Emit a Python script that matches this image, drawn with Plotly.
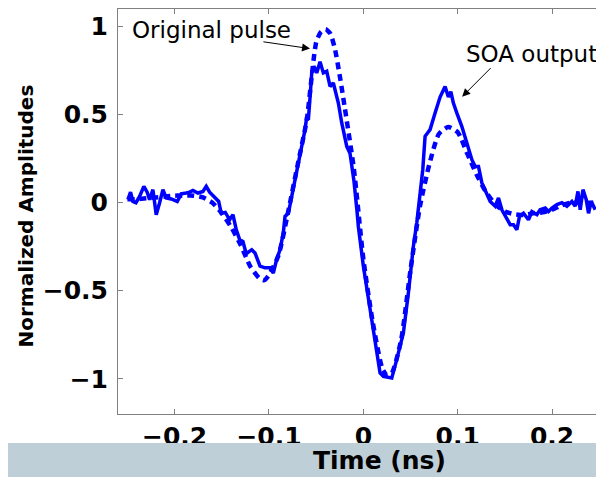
import plotly.graph_objects as go

# SOA output (solid, measured)
soa_t = [-0.2495, -0.2467, -0.2442, -0.2410, -0.2371, -0.2326, -0.2291, -0.2265, -0.2230, -0.2195,
         -0.2159, -0.2124, -0.2089, -0.2036, -0.1972, -0.1930, -0.1877, -0.1841, -0.1806, -0.1753,
         -0.1700, -0.1665, -0.1629, -0.1576, -0.1533, -0.1506, -0.1463, -0.1417, -0.1382, -0.1347,
         -0.1311, -0.1276, -0.1241, -0.1183, -0.1148, -0.1095, -0.1042, -0.0989, -0.0954, -0.0918,
         -0.0883, -0.0848, -0.0830, -0.0795, -0.0759, -0.0724, -0.0689, -0.0653, -0.0618, -0.0600,
         -0.0583, -0.0565, -0.0547, -0.0523, -0.0494, -0.0459, -0.0424, -0.0388, -0.0353, -0.0318,
         -0.0265, -0.0229, -0.0176, -0.0141, -0.0099, -0.0067, -0.0053, 0.0000, 0.0053, 0.0089,
         0.0124, 0.0177, 0.0212, 0.0301, 0.0354, 0.0424, 0.0477, 0.0530, 0.0566, 0.0601,
         0.0630, 0.0654, 0.0707, 0.0760, 0.0813, 0.0866, 0.0901, 0.0927, 0.0954, 0.0990,
         0.1043, 0.1096, 0.1150, 0.1185, 0.1220, 0.1256, 0.1309, 0.1344, 0.1397, 0.1432,
         0.1468, 0.1503, 0.1556, 0.1591, 0.1627, 0.1654, 0.1697, 0.1750, 0.1786, 0.1839,
         0.1873, 0.1927, 0.1962, 0.1998, 0.2051, 0.2104, 0.2157, 0.2210, 0.2245, 0.2274,
         0.2298, 0.2327, 0.2362, 0.2386, 0.2415, 0.2457]
soa_v = [0.017, 0.060, 0.007, 0.000, 0.036, 0.093, 0.060, 0.017, 0.074, -0.068,
         0.000, 0.074, 0.027, 0.021, 0.007, 0.050, 0.055, 0.060, 0.070, 0.055,
         0.064, 0.093, 0.060, 0.027, 0.007, -0.060, -0.055, -0.097, -0.068, -0.153,
         -0.210, -0.220, -0.290, -0.267, -0.286, -0.360, -0.370, -0.370, -0.400, -0.320,
         -0.267, -0.170, -0.078, -0.060, 0.036, 0.130, 0.244, 0.340, 0.415, 0.490,
         0.470, 0.600, 0.737, 0.775, 0.737, 0.800, 0.737, 0.746, 0.660, 0.680,
         0.566, 0.453, 0.320, 0.280, 0.120, -0.050, -0.135, -0.360, -0.550, -0.665,
         -0.780, -0.967, -0.987, -0.996, -0.890, -0.740, -0.513, -0.248, -0.115, 0.036,
         0.190, 0.377, 0.415, 0.510, 0.600, 0.660, 0.600, 0.630, 0.566, 0.510,
         0.434, 0.340, 0.244, 0.206, 0.206, 0.112, 0.055, 0.007, -0.020, 0.027,
         -0.040, -0.078, -0.125, -0.125, -0.153, -0.078, -0.060, -0.097, -0.050, -0.068,
         -0.040, -0.030, -0.050, -0.030, -0.011, 0.000, -0.020, 0.007, -0.020, 0.064,
         -0.040, 0.074, 0.017, -0.060, 0.007, -0.040]

# Original pulse (dashed, measured)
orig_t = [-0.25, -0.24, -0.23, -0.22, -0.21, -0.20, -0.19, -0.18, -0.17, -0.16,
          -0.15, -0.14, -0.13, -0.12, -0.11, -0.105, -0.10, -0.09, -0.08, -0.07,
          -0.06, -0.05, -0.045, -0.04, -0.035, -0.03, -0.025, -0.02, -0.01, 0.00,
          0.01, 0.02, 0.025, 0.03, 0.04, 0.05, 0.06, 0.07, 0.08, 0.09,
          0.10, 0.11, 0.12, 0.13, 0.14, 0.15, 0.16, 0.17, 0.18, 0.19,
          0.20, 0.21, 0.22, 0.23, 0.24, 0.25]
orig_v = [0.02, 0.02, 0.025, 0.03, 0.035, 0.04, 0.04, 0.04, 0.03, 0.00,
          -0.06, -0.14, -0.24, -0.36, -0.43, -0.44, -0.41, -0.30, -0.06, 0.205,
          0.47, 0.91, 0.97, 0.985, 0.96, 0.87, 0.72, 0.55, 0.19, -0.32,
          -0.68, -0.94, -0.98, -0.97, -0.78, -0.38, -0.02, 0.22, 0.39, 0.43,
          0.40, 0.28, 0.16, 0.06, -0.01, -0.05, -0.065, -0.07, -0.06, -0.055,
          -0.04, -0.015, 0.00, 0.00, 0.00, 0.00]

x_ticks = [-0.2, -0.1, 0, 0.1, 0.2]
y_ticks = [-1, -0.5, 0, 0.5, 1]

BLUE = "rgb(0,0,255)"
TICKFONT = dict(family="DejaVu Sans", size=25, color="black", weight="bold")

fig = go.Figure()
fig.add_trace(go.Scatter(x=orig_t, y=orig_v, mode="lines", name="Original pulse",
                         line=dict(color=BLUE, width=4.5, dash="7px,5px", shape="spline", smoothing=0.6)))
fig.add_trace(go.Scatter(x=soa_t, y=soa_v, mode="lines", name="SOA output",
                         line=dict(color=BLUE, width=3.5)))

axis_common = dict(showgrid=False, zeroline=False, showline=True, linecolor="#808080", linewidth=1,
                   mirror="ticks", ticks="inside", ticklen=5, tickcolor="#808080",
                   tickfont=TICKFONT, automargin=False)
fig.update_xaxes(range=[-0.26, 0.255], tickvals=x_ticks, **axis_common)
fig.update_yaxes(range=[-1.2, 1.1], tickvals=y_ticks, ticklabelstandoff=4, **axis_common)

# plot area: 486 x 405 px
fig.add_shape(type="rect", xref="paper", yref="paper", x0=-0.3, x1=1.1, y0=-0.0716, y1=-0.2,
              fillcolor="rgb(191,207,215)", line=dict(width=0), layer="above")

fig.add_annotation(xref="paper", yref="paper", x=0.539, y=-0.116, text="Time (ns)", showarrow=False,
                   font=dict(family="DejaVu Sans", size=25, color="black", weight="bold"),
                   xanchor="center", yanchor="middle")
fig.add_annotation(xref="paper", yref="paper", x=-0.1893, y=0.4877, text="Normalized Amplitudes",
                   showarrow=False, textangle=-90,
                   font=dict(family="DejaVu Sans", size=20, color="black", weight="bold"),
                   xanchor="center", yanchor="middle")

fig.add_annotation(x=-0.161, y=0.983, text="Original pulse", showarrow=False,
                   font=dict(family="DejaVu Sans", size=23, color="black"))
fig.add_annotation(x=0.178, y=0.847, text="SOA output", showarrow=False,
                   font=dict(family="DejaVu Sans", size=23, color="black"))
fig.add_annotation(x=-0.0565, y=0.875, ax=-0.1075, ay=0.915, axref="x", ayref="y", text="",
                   showarrow=True, arrowhead=2, arrowsize=1.6, arrowwidth=1, arrowcolor="black")
fig.add_annotation(x=0.1047, y=0.602, ax=0.1365, ay=0.773, axref="x", ayref="y", text="",
                   showarrow=True, arrowhead=2, arrowsize=1.6, arrowwidth=1, arrowcolor="black")

# the page body adds an 8px margin, so the figure is offset to compensate
fig.update_layout(width=604, height=469, margin=dict(l=110, r=8, t=1, b=63),
                  paper_bgcolor="white", plot_bgcolor="white", showlegend=False)

fig.write_html("out.html")
